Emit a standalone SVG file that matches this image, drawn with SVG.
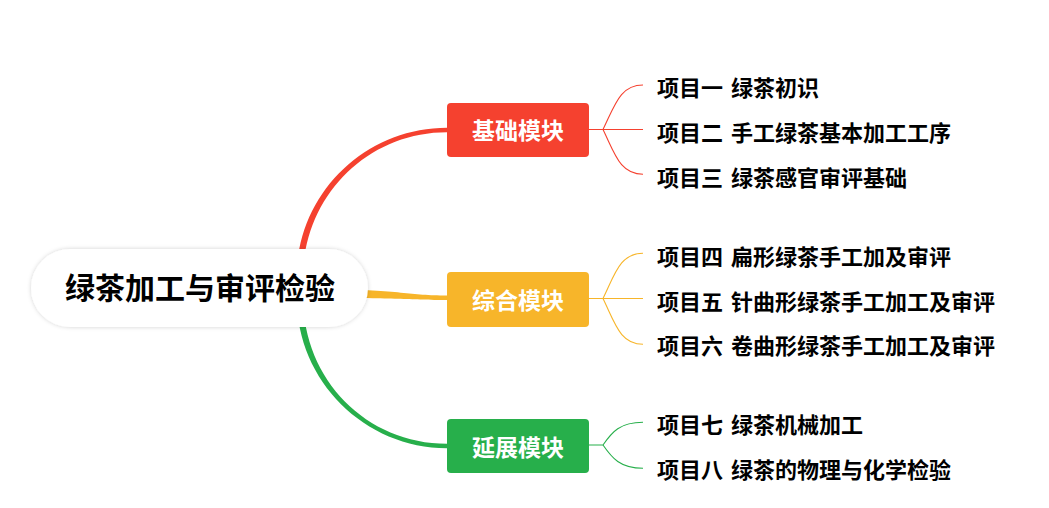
<svg xmlns="http://www.w3.org/2000/svg" width="1049" height="508" viewBox="0 0 1049 508">
  <defs>
    <filter id="shadow" x="-10%" y="-30%" width="120%" height="160%">
      <feDropShadow dx="0" dy="0" stdDeviation="2" flood-color="#000" flood-opacity="0.18"/>
    </filter>
  </defs>
  <style>
    .root-text { font-family: "Noto Sans CJK SC", "Noto Sans", sans-serif; font-weight: 700; font-size: 30px; fill: #000; }
    .mod-text { font-family: "Noto Sans CJK SC", "Noto Sans", sans-serif; font-weight: 700; font-size: 23px; fill: #fff; }
    .leaf-text { font-family: "Noto Sans CJK SC", "Noto Sans", sans-serif; font-weight: 700; font-size: 22px; fill: #000; word-spacing: 3px; }
    .thin { fill: none; stroke-width: 1.1; }
    .red { fill: #F5412F; }
    .yellow { fill: #F7B52A; }
    .green { fill: #27AF4B; }
  </style>
  <rect width="1049" height="508" fill="#fff"/>

  <g id="connectors">
    <!-- main tapered branches -->
    <path class="red" d="M296.8,300 L296.8,277 C296.8,194 365,127.8 447,127.8 L447,132.2 C366.5,132.2 303.2,197.5 303.2,277 L303.2,300 Z"/>
    <path class="yellow" d="M330,289 C400,290 410,295.5 447,295.5 L447,300 C410,300 400,298 330,298 Z"/>
    <path class="green" d="M296.8,280 L296.8,298 C296.8,381 365,448.2 447,448.2 L447,443.8 C366.5,443.8 303.2,379.5 303.2,298 L303.2,280 Z"/>
    <!-- leaf branches -->
    <g class="thin" stroke="#F5412F">
      <path d="M589,129.5 L603,129.5 C615,105 620,85 643,85"/>
      <path d="M603,129.5 L643,129.5"/>
      <path d="M603,129.5 C615,154 620,174.3 643,174.3"/>
    </g>
    <g class="thin" stroke="#F7B52A">
      <path d="M589,298.5 L603,298.5 C615,274 620,253.3 643,253.3"/>
      <path d="M603,298.5 L643,298.5"/>
      <path d="M603,298.5 C615,323 620,344.3 643,344.3"/>
    </g>
    <g class="thin" stroke="#27AF4B">
      <path d="M589,445 L603,445 C612,432 620,422.3 643,422.3"/>
      <path d="M603,445 C612,458 620,468.3 643,468.3"/>
    </g>
  </g>

  <g id="root">
    <rect x="31" y="249" width="337" height="78" rx="39" fill="#fff" filter="url(#shadow)"/>
    <text class="root-text" x="200" y="299" text-anchor="middle">绿茶加工与审评检验</text>
  </g>

  <g id="mod-basic">
    <rect class="red" x="447" y="103" width="142" height="54" rx="4"/>
    <text class="mod-text" x="518" y="139" text-anchor="middle">基础模块</text>
  </g>
  <g id="mod-comp">
    <rect class="yellow" x="447" y="272" width="142" height="55" rx="4"/>
    <text class="mod-text" x="518" y="308.5" text-anchor="middle">综合模块</text>
  </g>
  <g id="mod-ext">
    <rect class="green" x="447" y="419" width="142" height="54" rx="4"/>
    <text class="mod-text" x="518" y="455.5" text-anchor="middle">延展模块</text>
  </g>

  <g id="leaf1"><text class="leaf-text" x="657" y="95.5">项目一 绿茶初识</text></g>
  <g id="leaf2"><text class="leaf-text" x="657" y="141">项目二 手工绿茶基本加工工序</text></g>
  <g id="leaf3"><text class="leaf-text" x="657" y="186">项目三 绿茶感官审评基础</text></g>
  <g id="leaf4"><text class="leaf-text" x="657" y="265">项目四 扁形绿茶手工加及审评</text></g>
  <g id="leaf5"><text class="leaf-text" x="657" y="310">项目五 针曲形绿茶手工加工及审评</text></g>
  <g id="leaf6"><text class="leaf-text" x="657" y="354">项目六 卷曲形绿茶手工加工及审评</text></g>
  <g id="leaf7"><text class="leaf-text" x="657" y="433">项目七 绿茶机械加工</text></g>
  <g id="leaf8"><text class="leaf-text" x="657" y="478">项目八 绿茶的物理与化学检验</text></g>
</svg>
